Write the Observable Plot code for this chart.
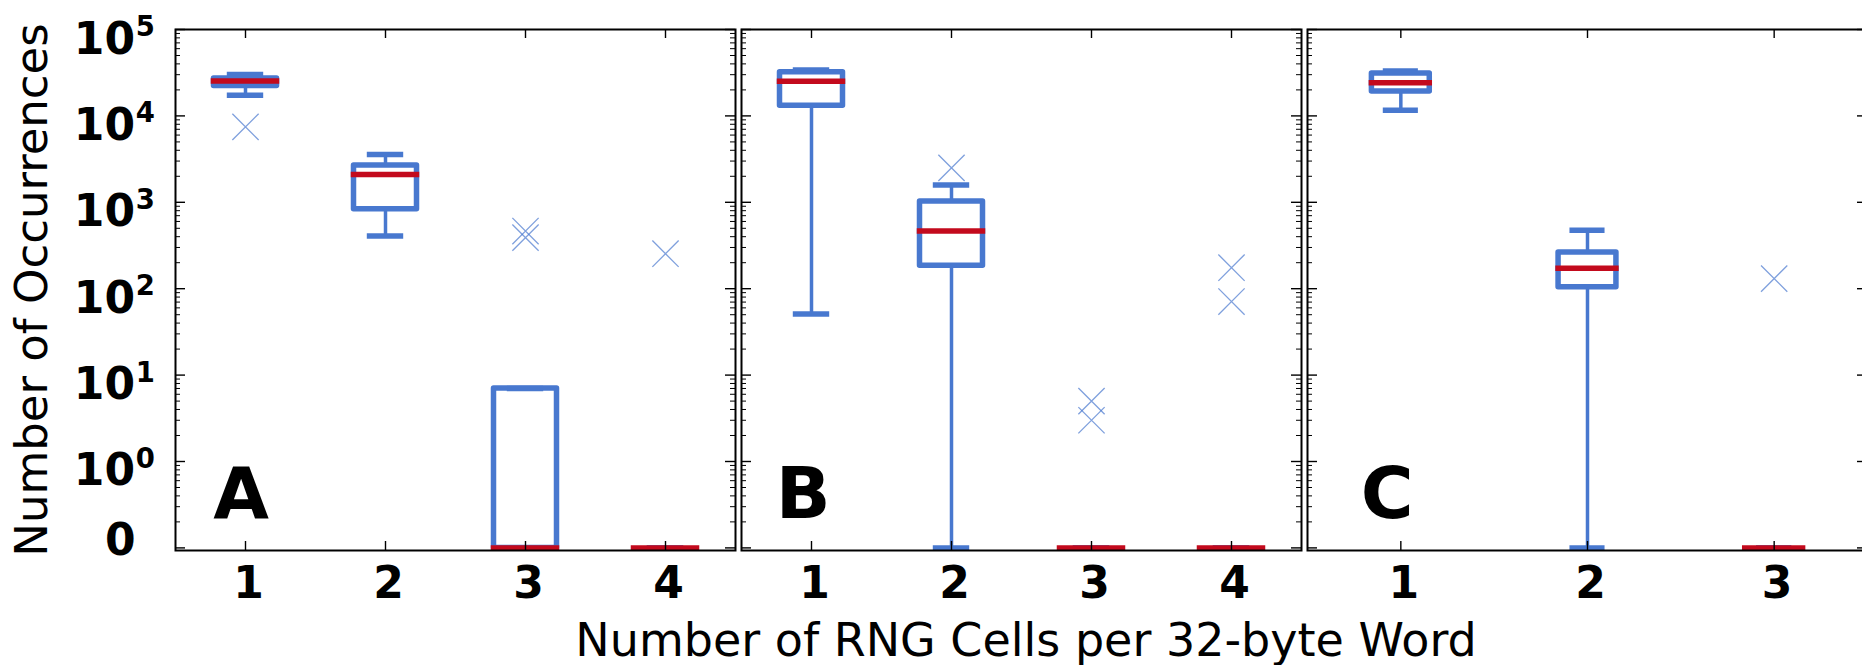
<!DOCTYPE html>
<html>
<head>
<meta charset="utf-8">
<script src="https://cdn.jsdelivr.net/npm/d3@7"></script>
<script src="https://cdn.jsdelivr.net/npm/@observablehq/plot@0.6"></script>
<style>
html, body { margin: 0; padding: 0; background: #fff; overflow: hidden; }
#chart { position: relative; width: 1862px; height: 665px; overflow: hidden; background: #fff; }
#chart svg { position: absolute; top: 0; overflow: visible; }
</style>
</head>
<body>
<div id="chart"></div>
<script>
// ---------------- data ----------------
const cellsA   = [1, 2, 3, 4];
const lowA     = [17300, 406, 0, 0];
const q1A      = [22200, 830, 0, 0];
const medianA  = [25300, 2100, 0, 0];
const q3A      = [27100, 2660, 7, 0];
const highA    = [30200, 3575, 7, 0];
const outliersA = [[7450], [], [465, 390], [254]];

const cellsB   = [1, 2, 3, 4];
const lowB     = [51, 0, 0, 0];
const q1B      = [13100, 184, 0, 0];
const medianB  = [25200, 464, 0, 0];
const q3B      = [32000, 1020, 0, 0];
const highB    = [34000, 1585, 0, 0];
const outliersB = [[], [2500], [5, 3], [175, 71]];

const cellsC   = [1, 2, 3];
const lowC     = [11600, 0, 0];
const q1C      = [19200, 104, 0];
const medianC  = [24200, 173, 0];
const q3C      = [30900, 263, 0];
const highC    = [33100, 474, 0];
const outliersC = [[], [], [131]];

const panelLabels = ["A", "B", "C"];
const yTickExponents = [0, 1, 2, 3, 4, 5];
const zeroLabel = "0";
const xTitle = "Number of RNG Cells per 32-byte Word";
const yTitle = "Number of Occurrences";

// ---------------- styling / layout ----------------
const BLUE = "#4878cf";
const RED = "#c30a1d";
const ZERO = 0.1;                 // zero counts drawn at the "0" tick
const yv = v => (v === 0 ? ZERO : v);
const FONT = "'DejaVu Sans', 'Liberation Sans', sans-serif";
const H = 665, MT = 29, MB = 115;
const FRAME_H = H - MT - MB;
const PANEL_W = 560;

const majorY = [ZERO, ...yTickExponents.map(e => 10 ** e)];
const minorY = [];
for (let e = -1; e <= 4; e++) for (let k = 2; k <= 9; k++) minorY.push(k * 10 ** e);

function makePanel(cfg) {
  const {cells, low, q1, med, q3, high, outliers, label, labelX, boxW, capW, left, marginLeft, extra} = cfg;
  const rows = cells.map((c, i) => ({c, low: low[i], q1: q1[i], med: med[i], q3: q3[i], high: high[i]}));
  const outs = cells.flatMap((c, i) => outliers[i].map(v => ({c, v})));
  const n = cells.length;
  const marks = [
    // whiskers
    Plot.ruleX(rows, {x: "c", y1: d => yv(d.low), y2: d => yv(d.q1), stroke: BLUE, strokeWidth: 3.5}),
    Plot.ruleX(rows, {x: "c", y1: d => yv(d.q3), y2: d => yv(d.high), stroke: BLUE, strokeWidth: 3.5}),
    // caps
    Plot.ruleY(rows, {y: d => yv(d.low), x1: d => d.c - capW / 2, x2: d => d.c + capW / 2, stroke: BLUE, strokeWidth: 5.5}),
    Plot.ruleY(rows, {y: d => yv(d.high), x1: d => d.c - capW / 2, x2: d => d.c + capW / 2, stroke: BLUE, strokeWidth: 5.5}),
    // boxes
    Plot.rect(rows, {x1: d => d.c - boxW / 2, x2: d => d.c + boxW / 2, y1: d => yv(d.q1), y2: d => yv(d.q3),
      fill: "none", stroke: BLUE, strokeWidth: 5.5, strokeLinejoin: "round"}),
    // medians
    Plot.ruleY(rows, {y: d => yv(d.med), x1: d => d.c - boxW / 2, x2: d => d.c + boxW / 2,
      stroke: RED, strokeWidth: 5.5, strokeLinecap: "square"}),
    // outliers
    Plot.dot(outs, {x: "c", y: "v", symbol: "times", r: 12, stroke: BLUE, strokeOpacity: 0.7, strokeWidth: 1.3}),
    // inward ticks
    Plot.tickY(majorY, {y: d => d, insetRight: PANEL_W - 10, stroke: "#000", strokeWidth: 1.4}),
    Plot.tickY(majorY, {y: d => d, insetLeft: PANEL_W - 10, stroke: "#000", strokeWidth: 1.4}),
    Plot.tickY(minorY, {y: d => d, insetRight: PANEL_W - 5, stroke: "#000", strokeWidth: 1}),
    Plot.tickY(minorY, {y: d => d, insetLeft: PANEL_W - 5, stroke: "#000", strokeWidth: 1}),
    Plot.tickX(cells, {x: d => d, insetTop: FRAME_H - 9, stroke: "#000", strokeWidth: 1.4}),
    Plot.tickX(cells, {x: d => d, insetBottom: FRAME_H - 9, stroke: "#000", strokeWidth: 1.4}),
    Plot.frame({stroke: "#000", strokeWidth: 2}),
    // panel letter
    Plot.text([label], {x: () => labelX, frameAnchor: "bottom", dy: -33, textAnchor: "start", lineAnchor: "bottom",
      fontSize: 72, fontWeight: "bold", fill: "#000"}),
    // x tick labels
    Plot.text(cells, {x: d => d, text: d => String(d), frameAnchor: "bottom", dy: 47, dx: 3, lineAnchor: "bottom",
      fontSize: 44, fontWeight: "bold", fill: "#000"}),
    ...(extra || [])
  ];
  const svg = Plot.plot({
    width: marginLeft + PANEL_W,
    height: H,
    marginLeft, marginRight: 0, marginTop: MT, marginBottom: MB,
    style: `overflow: visible; font-family: ${FONT}; background: transparent;`,
    x: {domain: [0.5, n + 0.5], axis: null},
    y: {type: "log", domain: [0.0933, 1e5], axis: null},
    marks
  });
  svg.style.left = (left - marginLeft) + "px";
  document.getElementById("chart").appendChild(svg);
}

const yAxisMarks = [
  Plot.text(yTickExponents, {y: e => 10 ** e, text: () => "10", frameAnchor: "left", textAnchor: "end",
    dx: -40.5, dy: 24, lineAnchor: "bottom", fontSize: 44, fontWeight: "bold", fill: "#000"}),
  Plot.text(yTickExponents, {y: e => 10 ** e, text: e => String(e), frameAnchor: "left", textAnchor: "end",
    dx: -20.5, dy: 6.5, lineAnchor: "bottom", fontSize: 27.5, fontWeight: "bold", fill: "#000"}),
  Plot.text([zeroLabel], {y: () => ZERO, frameAnchor: "left", textAnchor: "end",
    dx: -40, dy: 7.5, lineAnchor: "bottom", fontSize: 44, fontWeight: "bold", fill: "#000"}),
  Plot.text([yTitle], {frameAnchor: "left", rotate: -90, textAnchor: "middle", dx: -128.5, lineAnchor: "bottom",
    fontSize: 45, fill: "#000"})
];

const xTitleMarks = [
  Plot.text([xTitle], {frameAnchor: "bottom", textAnchor: "middle", dy: 105, dx: 4.5, lineAnchor: "bottom",
    fontSize: 46, fill: "#000"})
];

makePanel({cells: cellsA, low: lowA, q1: q1A, med: medianA, q3: q3A, high: highA, outliers: outliersA,
  label: panelLabels[0], labelX: 0.77, boxW: 0.45, capW: 0.26, left: 175, marginLeft: 175, extra: yAxisMarks});
makePanel({cells: cellsB, low: lowB, q1: q1B, med: medianB, q3: q3B, high: highB, outliers: outliersB,
  label: panelLabels[1], labelX: 0.745, boxW: 0.45, capW: 0.26, left: 741, marginLeft: 0, extra: xTitleMarks});
makePanel({cells: cellsC, low: lowC, q1: q1C, med: medianC, q3: q3C, high: highC, outliers: outliersC,
  label: panelLabels[2], labelX: 0.785, boxW: 0.31, capW: 0.188, left: 1307, marginLeft: 0});
</script>
</body>
</html>
